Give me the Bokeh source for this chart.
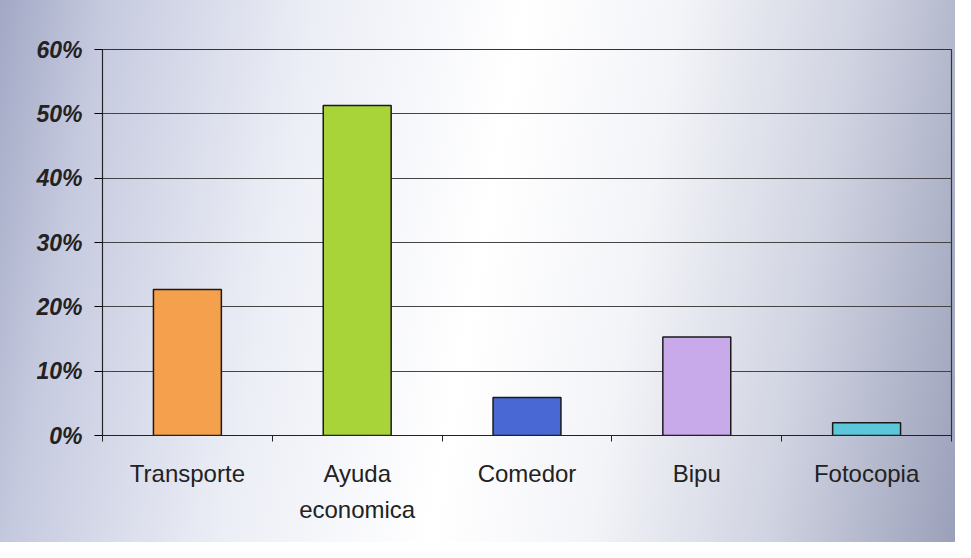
from bokeh.plotting import figure
from bokeh.models import FixedTicker, Range1d, ColumnDataSource
from bokeh.embed import file_html
from bokeh.resources import INLINE

categories = ["Transporte", "Ayuda\neconomica", "Comedor", "Bipu", "Fotocopia"]
values = [22.7, 51.3, 5.9, 15.3, 2.0]
colors = ["#f5a04c", "#a8d43a", "#4a68d4", "#c8aaea", "#5cc6da"]
y_ticks = [0, 10, 20, 30, 40, 50, 60]
y_labels = ["0%", "10%", "20%", "30%", "40%", "50%", "60%"]

xpos = [i + 0.5 for i in range(len(categories))]
src = ColumnDataSource(dict(x=xpos, top=values, color=colors))

p = figure(width=955, height=542, output_backend="svg", toolbar_location=None,
           x_range=Range1d(0, len(categories)), y_range=Range1d(0, 60),
           min_border_left=102, min_border_right=4, min_border_top=49, min_border_bottom=107)

p.vbar(x="x", top="top", width=0.4, bottom=0, fill_color="color",
       line_color="#1a1a1a", line_width=1.5, source=src)

p.background_fill_alpha = 0
p.border_fill_alpha = 0
p.styles = {"background": "linear-gradient(100deg, #a2a8c5 0%, #c6cadf 10%, #eceef6 30%, #ffffff 50%, #f3f4f8 65%, #d0d3e1 82%, #9ba0ba 100%)"}
p.outline_line_color = "#333333"
p.outline_line_width = 1.2

p.ygrid.grid_line_color = "#444444"
p.ygrid.grid_line_width = 1.2
p.ygrid.ticker = FixedTicker(ticks=y_ticks)
p.xgrid.grid_line_color = None

p.yaxis.ticker = FixedTicker(ticks=y_ticks)
p.yaxis.major_label_overrides = {t: l for t, l in zip(y_ticks, y_labels)}
p.yaxis.major_label_text_font = "Liberation Sans"
p.yaxis.major_label_text_font_style = "bold italic"
p.yaxis.major_label_text_font_size = "23px"
p.yaxis.major_label_text_color = "#222222"
p.yaxis.major_tick_out = 8
p.yaxis.major_tick_in = 0
p.yaxis.minor_tick_line_color = None
p.yaxis.major_label_standoff = 12
p.yaxis.axis_line_color = "#222222"

p.xaxis.ticker = FixedTicker(ticks=xpos, minor_ticks=list(range(len(categories) + 1)))
p.xaxis.major_label_overrides = {x: c for x, c in zip(xpos, categories)}
p.xaxis.major_tick_out = 0
p.xaxis.major_tick_in = 0
p.xaxis.minor_tick_out = 6
p.xaxis.minor_tick_in = 0
p.xaxis.minor_tick_line_color = "#222222"
p.xaxis.axis_line_color = "#222222"
p.xaxis.major_label_text_font = "Liberation Sans"
p.xaxis.major_label_text_font_size = "24px"
p.xaxis.major_label_text_color = "#222222"
p.xaxis.major_label_standoff = 18
p.xaxis.major_label_text_line_height = 1.35

open("out.html", "w").write(file_html(p, INLINE))
